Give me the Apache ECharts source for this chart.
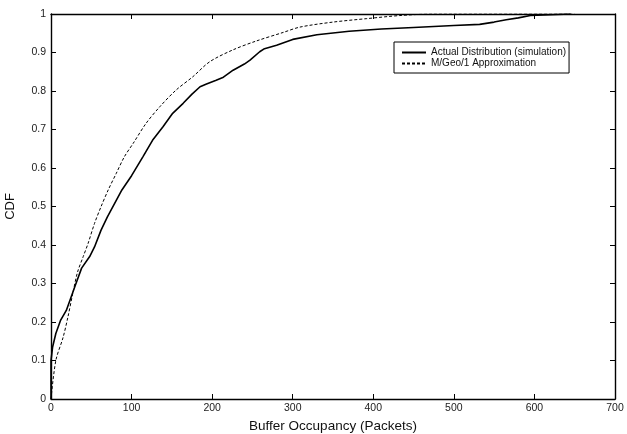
<!DOCTYPE html>
<html>
<head>
<meta charset="utf-8">
<script src="https://cdn.jsdelivr.net/npm/echarts@6/dist/echarts.min.js"></script>
<style>
html,body{margin:0;padding:0;background:#fff;}
#chart{width:627px;height:434px;}
</style>
</head>
<body>
<div id="chart"></div>
<script>
// Actual Distribution (simulation)
const actualX = [0, 0, 2, 6, 12, 19, 25, 31, 38, 48, 54, 62, 70, 79, 88, 100, 114, 126, 139, 151, 164, 175, 185, 193, 205, 214, 226, 240, 247, 259, 265, 280, 300, 330, 370, 410, 450, 500, 532, 550, 565, 580, 595, 620, 645];
const actualY = [0, 0.10, 0.135, 0.17, 0.205, 0.23, 0.265, 0.30, 0.34, 0.37, 0.395, 0.438, 0.473, 0.508, 0.543, 0.58, 0.629, 0.672, 0.707, 0.742, 0.768, 0.792, 0.811, 0.818, 0.828, 0.836, 0.854, 0.870, 0.880, 0.902, 0.910, 0.919, 0.934, 0.946, 0.955, 0.961, 0.965, 0.970, 0.973, 0.979, 0.985, 0.990, 0.996, 0.998, 1.0];
// M/Geo/1 Approximation
const approxX = [0, 6, 15, 21, 27, 33, 40, 46, 54, 62, 71, 81, 91, 102, 118, 135, 155, 176, 197, 226, 255, 288, 309, 350, 392, 433, 474, 650];
const approxY = [0.0, 0.10, 0.16, 0.213, 0.274, 0.33, 0.37, 0.404, 0.456, 0.499, 0.543, 0.586, 0.629, 0.664, 0.716, 0.759, 0.802, 0.837, 0.876, 0.907, 0.930, 0.952, 0.966, 0.979, 0.988, 0.996, 1.0, 1.0];

const seriesNames = ['Actual Distribution (simulation)', 'M/Geo/1 Approximation'];
const xTitle = 'Buffer Occupancy (Packets)';
const yTitle = 'CDF';

const zip = (xs, ys) => xs.map((x, i) => [x, ys[i]]);

const chart = echarts.init(document.getElementById('chart'), null, {renderer: 'canvas'});
const font = 'Liberation Sans, Arial, sans-serif';
const labelStyle = {color: '#222', fontSize: 10.5, fontFamily: font};

const baseX = {
  type: 'value', min: 0, max: 700, interval: 100,
  axisLine: {show: true, onZero: false, lineStyle: {color: '#000', width: 1.4}},
  axisTick: {show: true, inside: true, length: 5, lineStyle: {color: '#000', width: 1}},
  splitLine: {show: false}
};
const baseY = {
  type: 'value', min: 0, max: 1, interval: 0.1,
  axisLine: {show: true, onZero: false, lineStyle: {color: '#000', width: 1.4}},
  axisTick: {show: true, inside: true, length: 5, lineStyle: {color: '#000', width: 1}},
  splitLine: {show: false}
};

chart.setOption({
  animation: false,
  backgroundColor: '#fff',
  grid: {left: 51, right: 12, top: 14, bottom: 35, containLabel: false, outerBoundsMode: 'none'},
  legend: {
    orient: 'vertical',
    left: 394, top: 42,
    padding: [5, 3, 4, 7],
    itemGap: 0,
    itemWidth: 24, itemHeight: 10,
    borderColor: '#000', borderWidth: 1,
    backgroundColor: '#fff',
    itemStyle: {opacity: 0},
    textStyle: {color: '#111', fontSize: 10, lineHeight: 11, fontFamily: font},
    data: seriesNames
  },
  xAxis: [
    Object.assign({}, baseX, {
      position: 'bottom',
      name: xTitle, nameLocation: 'middle', nameGap: 17,
      nameTextStyle: {color: '#111', fontSize: 13.5, fontFamily: font},
      axisLabel: Object.assign({margin: 4}, labelStyle)
    }),
    Object.assign({}, baseX, {position: 'top', axisLabel: {show: false}})
  ],
  yAxis: [
    Object.assign({}, baseY, {
      position: 'left',
      name: yTitle, nameLocation: 'middle', nameGap: 34,
      nameTextStyle: {color: '#111', fontSize: 13, fontFamily: font},
      axisLabel: Object.assign({margin: 5}, labelStyle)
    }),
    Object.assign({}, baseY, {position: 'right', axisLabel: {show: false}})
  ],
  series: [
    {
      name: seriesNames[0], type: 'line', symbol: 'none', showSymbol: false,
      data: zip(actualX, actualY),
      lineStyle: {color: '#000', width: 1.6, type: 'solid'},
      itemStyle: {color: '#000'}
    },
    {
      name: seriesNames[1], type: 'line', symbol: 'none', showSymbol: false,
      smooth: 0.3,
      data: zip(approxX, approxY),
      lineStyle: {color: '#000', width: 1, type: [3, 2]},
      itemStyle: {color: '#000'}
    }
  ]
});
</script>
</body>
</html>
